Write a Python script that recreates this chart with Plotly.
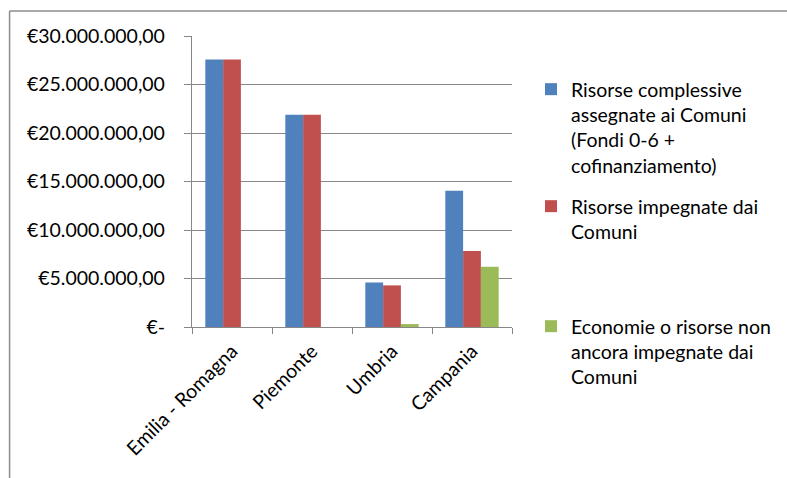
import plotly.graph_objects as go

# Regional figures (euro)
regioni = ["Emilia - Romagna", "Piemonte", "Umbria", "Campania"]
assegnate = [27_570_000, 21_870_000, 4_590_000, 14_050_000]
impegnate = [27_570_000, 21_870_000, 4_290_000, 7_840_000]
economie = [None, None, 300_000, 6_200_000]

nomi = [
    "Risorse complessive<br>assegnate ai Comuni<br>(Fondi 0-6 +<br>cofinanziamento)",
    "Risorse impegnate dai<br>Comuni",
    "Economie o risorse non<br>ancora impegnate dai<br>Comuni",
]
colori = ["#4F81BD", "#C0504D", "#9BBB59"]
legende = ["legend", "legend2", "legend3"]

tick_vals = [0, 5_000_000, 10_000_000, 15_000_000, 20_000_000, 25_000_000, 30_000_000]
tick_text = ["€-", "€5.000.000,00", "€10.000.000,00", "€15.000.000,00",
             "€20.000.000,00", "€25.000.000,00", "€30.000.000,00"]

FONT = "Lato"
FS = 19.5
GRID = "#878787"

fig = go.Figure()
for valori, nome, colore, leg in zip([assegnate, impegnate, economie], nomi, colori, legende):
    fig.add_trace(go.Bar(
        x=regioni, y=valori, name=nome, legend=leg, showlegend=True,
        marker=dict(color=colore, line=dict(width=0)),
    ))

W, H = 787, 478
L, R, T, B = 192, 787 - 513, 36, 478 - 327
pw, ph = W - L - R, H - T - B


def px_x(x):
    return (x - L) / pw


def px_y(y):
    return (H - B - y) / ph


leg_common = dict(
    font=dict(family=FONT, size=FS, color="#000000"),
    bgcolor="rgba(0,0,0,0)", borderwidth=0,
    xanchor="left", yanchor="top", itemwidth=30,
    tracegroupgap=0, valign="top",
)

fig.update_layout(
    width=W, height=H,
    margin=dict(l=L, r=R, t=T, b=B, pad=0),
    paper_bgcolor="#FFFFFF", plot_bgcolor="#FFFFFF",
    font=dict(family=FONT, size=FS, color="#000000"),
    showlegend=True,
    barmode="group", bargap=0.333, bargroupgap=0,
    legend=dict(x=px_x(531), y=px_y(70), **leg_common),
    legend2=dict(x=px_x(531), y=px_y(187), **leg_common),
    legend3=dict(x=px_x(531), y=px_y(307), **leg_common),
    xaxis=dict(
        type="category", tickson="boundaries", ticks="outside", ticklen=6,
        tickcolor=GRID, tickwidth=1.3, showline=True, linecolor=GRID, linewidth=1.3,
        showgrid=False, tickangle=-45, ticklabelstandoff=4,
        tickfont=dict(family=FONT, size=FS),
    ),
    yaxis=dict(
        range=[0, 30_000_000], tickvals=tick_vals, ticktext=tick_text,
        ticks="outside", ticklen=7, tickcolor=GRID, tickwidth=1.3,
        showline=True, linecolor=GRID, linewidth=1.3,
        showgrid=True, gridcolor=GRID, gridwidth=1.3, zeroline=False,
        ticklabelstandoff=15, tickfont=dict(family=FONT, size=FS),
    ),
    shapes=[
        # chart-area frame (top and left edges)
        dict(type="line", xref="paper", yref="paper",
             x0=px_x(9), x1=px_x(800), y0=px_y(11), y1=px_y(11),
             line=dict(color="#8C8C8C", width=1.5)),
        dict(type="line", xref="paper", yref="paper",
             x0=px_x(9), x1=px_x(9), y0=px_y(11), y1=px_y(490),
             line=dict(color="#8C8C8C", width=1.5)),
    ],
)

fig.write_html("out.html")
